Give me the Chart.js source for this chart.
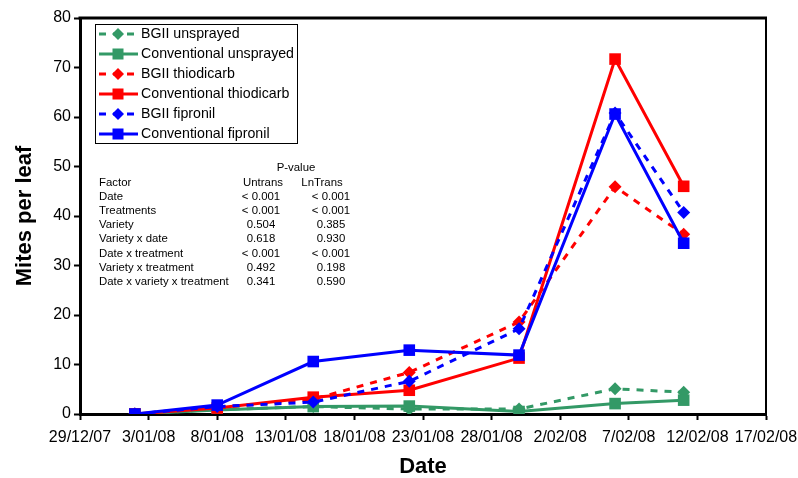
<!DOCTYPE html>
<html><head><meta charset="utf-8">
<script src="https://cdn.jsdelivr.net/npm/chart.js@4.4.1/dist/chart.umd.min.js"></script>
<style>html,body{margin:0;padding:0;background:#fff;}#wrap{width:798px;height:478px;}</style>
</head><body><div id="wrap"><canvas id="c" width="798" height="478"></canvas></div>
<script>
// ---- data ----
const dates = ['2/01/08','8/01/08','15/01/08','22/01/08','30/01/08','6/02/08','11/02/08'];
const bgiiUnsprayed  = [0, 0.9, 1.5, 1.0, 1.0, 5.1, 4.4];
const convUnsprayed  = [0, 0.8, 1.5, 1.6, 0.5, 2.1, 2.8];
const bgiiThiodicarb = [0, 1.3, 3.0, 8.4, 18.6, 45.9, 36.3];
const convThiodicarb = [0, 1.2, 3.4, 4.8, 11.3, 71.7, 46.0];
const bgiiFipronil   = [0, 1.5, 2.4, 6.6, 17.2, 60.8, 40.7];
const convFipronil   = [0, 1.8, 10.6, 12.9, 11.9, 60.6, 34.5];
const seriesNames = ['BGII unsprayed','Conventional unsprayed','BGII thiodicarb','Conventional thiodicarb','BGII fipronil','Conventional fipronil'];
const xAxisStart = '29/12/07';
const xAxisEnd = '17/02/08';
const xTickStepDays = 5;
const yMin = 0, yMax = 80, yStep = 10;
const tableFactors = ['Date','Treatments','Variety','Variety x date','Date x treatment','Variety x treatment','Date x variety x treatment'];
const tableUntrans = ['< 0.001','< 0.001','0.504','0.618','< 0.001','0.492','0.341'];
const tableLnTrans = ['< 0.001','< 0.001','0.385','0.930','< 0.001','0.198','0.590'];

// ---- helpers ----
function parseDate(s){const [d,m,y]=s.split('/').map(Number);return Date.UTC(2000+y,m-1,d);}
const t0 = parseDate(xAxisStart);
const dayOf = s => (parseDate(s)-t0)/86400000;
function fmtDay(v){const dt=new Date(t0+v*86400000);return dt.getUTCDate()+'/'+String(dt.getUTCMonth()+1).padStart(2,'0')+'/'+String(dt.getUTCFullYear()%100).padStart(2,'0');}
const GREEN='#339966', RED='#FF0000', BLUE='#0000FF';
const FONT="Arial, 'Liberation Sans', sans-serif";
const seriesValues=[bgiiUnsprayed,convUnsprayed,bgiiThiodicarb,convThiodicarb,bgiiFipronil,convFipronil];
const seriesColors=[GREEN,GREEN,RED,RED,BLUE,BLUE];

const datasets = seriesValues.map((vals,i)=>{
  const bgii = i%2===0;
  return {
    label: seriesNames[i],
    data: dates.map((d,j)=>({x:dayOf(d), y:vals[j]})),
    borderColor: seriesColors[i], backgroundColor: seriesColors[i],
    pointBackgroundColor: seriesColors[i], pointBorderColor: seriesColors[i],
    borderWidth: 3, borderDash: bgii?[7,7]:[],
    pointStyle: bgii?'rectRot':'rect', pointRadius: bgii?6.5:8.2, pointBorderWidth:0,
    tension:0, order: 6-i
  };
});

const framePlugin = {
  id:'frame',
  afterDraw(chart){
    const {ctx, chartArea:a} = chart;
    ctx.save();
    ctx.strokeStyle='#000';
    ctx.lineWidth=3;
    ctx.beginPath();ctx.moveTo(a.left-1.5,a.top);ctx.lineTo(a.right+1,a.top);ctx.stroke();
    ctx.lineWidth=2;
    ctx.beginPath();ctx.moveTo(a.right,a.top);ctx.lineTo(a.right,a.bottom);ctx.stroke();
    ctx.restore();
  }
};

const legendPlugin = {
  id:'boxLegend',
  afterDraw(chart){
    const ctx=chart.ctx;
    const bx=95, by=24, bw=202, bh=119;
    ctx.save();
    ctx.fillStyle='#fff';ctx.fillRect(bx,by,bw,bh);
    ctx.strokeStyle='#000';ctx.lineWidth=1;ctx.strokeRect(bx+0.5,by+0.5,bw,bh);
    chart.data.datasets.forEach((ds,i)=>{
      const y = by+10+i*20;
      ctx.strokeStyle=ds.borderColor;ctx.lineWidth=3;
      ctx.setLineDash(ds.borderDash||[]);
      ctx.beginPath();ctx.moveTo(99,y);ctx.lineTo(138,y);ctx.stroke();
      ctx.setLineDash([]);
      ctx.fillStyle=ds.borderColor;
      if(ds.pointStyle==='rect'){ctx.fillRect(118-5.5,y-5.5,11,11);}
      else{ctx.beginPath();ctx.moveTo(118,y-6);ctx.lineTo(124,y);ctx.lineTo(118,y+6);ctx.lineTo(112,y);ctx.closePath();ctx.fill();}
      ctx.fillStyle='#000';ctx.font='14.2px '+FONT;ctx.textBaseline='middle';ctx.textAlign='left';
      ctx.fillText(ds.label,141,y);
    });
    ctx.restore();
  }
};

const tablePlugin = {
  id:'pTable',
  afterDraw(chart){
    const ctx=chart.ctx;
    ctx.save();
    ctx.fillStyle='#000';ctx.font='11.4px '+FONT;ctx.textBaseline='middle';
    const x0=99, cU=261, cL=331, yP=168, yH=183, y0=197, dy=14.1;
    ctx.textAlign='center';ctx.fillText('P-value',296,yP);
    ctx.textAlign='left';ctx.fillText('Factor',x0,yH);
    ctx.textAlign='center';ctx.fillText('Untrans',263,yH);ctx.fillText('LnTrans',322,yH);
    tableFactors.forEach((f,i)=>{
      const y=y0+dy*i;
      ctx.textAlign='left';ctx.fillText(f,x0,y);
      ctx.textAlign='center';ctx.fillText(tableUntrans[i],cU,y);ctx.fillText(tableLnTrans[i],cL,y);
    });
    ctx.restore();
  }
};

new Chart(document.getElementById('c'),{
  type:'line',
  data:{datasets},
  options:{
    responsive:false, devicePixelRatio:1, animation:false,
    layout:{padding:{left:0,right:32,top:18,bottom:0}},
    plugins:{legend:{display:false},tooltip:{enabled:false}},
    scales:{
      x:{type:'linear',min:0,max:dayOf(xAxisEnd),
        afterFit(s){s.height=64;s.paddingLeft=0;s.paddingRight=0;},
        ticks:{stepSize:xTickStepDays,callback:v=>fmtDay(v),color:'#000',font:{size:16,family:FONT},padding:8,maxRotation:0,autoSkip:false},
        grid:{display:true,drawOnChartArea:false,drawTicks:true,tickLength:6,tickWidth:2,tickColor:'#000'},
        border:{display:true,color:'#000',width:3},
        title:{display:true,text:'Date',color:'#000',font:{size:22,weight:'bold',family:FONT,lineHeight:1},padding:0}
      },
      y:{min:yMin,max:yMax,
        afterFit(s){s.width=80;s.paddingTop=0;s.paddingBottom=0;},
        ticks:{stepSize:yStep,color:'#000',font:{size:16,family:FONT},padding:3},
        grid:{display:true,drawOnChartArea:false,drawTicks:true,tickLength:6,tickWidth:2,tickColor:'#000'},
        border:{display:true,color:'#000',width:3},
        title:{display:true,text:'Mites per leaf',color:'#000',font:{size:22,weight:'bold',family:FONT,lineHeight:1},padding:{top:14,bottom:0}}
      }
    }
  },
  plugins:[framePlugin,legendPlugin,tablePlugin]
});
</script></body></html>
